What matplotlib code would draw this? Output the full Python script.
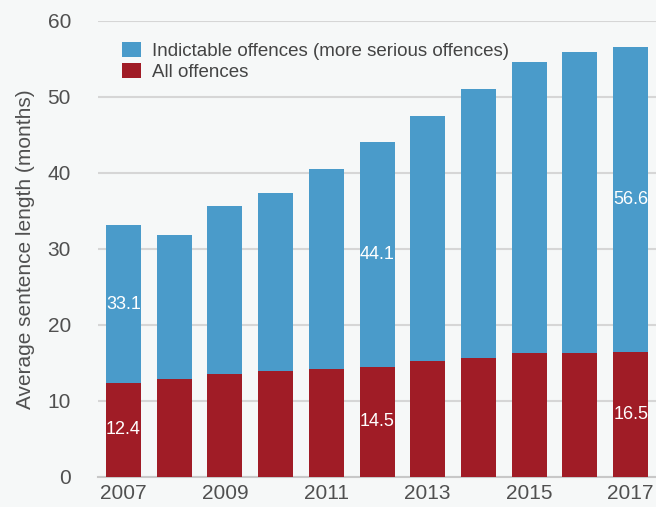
import matplotlib
matplotlib.use("Agg")
import matplotlib.pyplot as plt
import numpy as np

years = [2007, 2008, 2009, 2010, 2011, 2012, 2013, 2014, 2015, 2016, 2017]
indictable = [33.1, 31.8, 35.7, 37.4, 40.5, 44.1, 47.5, 51.0, 54.6, 55.9, 56.6]
all_offences = [12.4, 12.9, 13.5, 13.9, 14.2, 14.5, 15.3, 15.7, 16.3, 16.3, 16.5]
labelled_years = [2007, 2012, 2017]
tick_years = [2007, 2009, 2011, 2013, 2015, 2017]

BLUE = "#4a9bca"
RED = "#a01c26"
BG = "#f6f8f8"
TEXT = "#505050"
GRID = "#d6d6d6"

plt.rcParams["font.family"] = ["Liberation Sans", "DejaVu Sans"]

fig = plt.figure(figsize=(6.56, 5.07), dpi=100, facecolor=BG)
ax = fig.add_axes([0.1494, 0.0592, 0.8506, 0.8994], facecolor=BG)

x = np.arange(len(years))
width = 0.69
ax.bar(x, indictable, width, color=BLUE, zorder=2,
       label="Indictable offences (more serious offences)")
ax.bar(x, all_offences, width, color=RED, zorder=3, label="All offences")

for i, yr in enumerate(years):
    if yr in labelled_years:
        ax.text(x[i], all_offences[i] / 2, f"{all_offences[i]:.1f}", color="white",
                ha="center", va="center", fontsize=13, zorder=4)
        ax.text(x[i], (all_offences[i] + indictable[i]) / 2, f"{indictable[i]:.1f}",
                color="white", ha="center", va="center", fontsize=13, zorder=4)

ax.set_xlim(-0.5, len(years) - 0.5)
ax.set_ylim(0, 60)
ax.set_yticks(range(0, 61, 10))
ax.set_xticks([years.index(y) for y in tick_years])
ax.set_xticklabels([str(y) for y in tick_years])
ax.tick_params(axis="both", length=0, labelsize=15, colors=TEXT)
ax.tick_params(axis="y", pad=19.5)
ax.tick_params(axis="x", pad=5)

ax.yaxis.grid(True, color=GRID, linewidth=1.5, zorder=0)
ax.set_axisbelow(True)
for s in ["top", "right", "left"]:
    ax.spines[s].set_visible(False)
ax.spines["bottom"].set_color("#c8c8c8")
ax.spines["bottom"].set_linewidth(1.5)

ax.set_ylabel("Average sentence length (months)", fontsize=15, color=TEXT, labelpad=9)

leg = ax.legend(loc="upper left", bbox_to_anchor=(0.043, 0.955), frameon=False,
                fontsize=13.5, handlelength=1.0, handleheight=0.9,
                handletextpad=0.59, labelspacing=0.15, borderaxespad=0,
                borderpad=0)
for t in leg.get_texts():
    t.set_color("#444444")

fig.savefig("out.png", dpi=100, facecolor=BG)
